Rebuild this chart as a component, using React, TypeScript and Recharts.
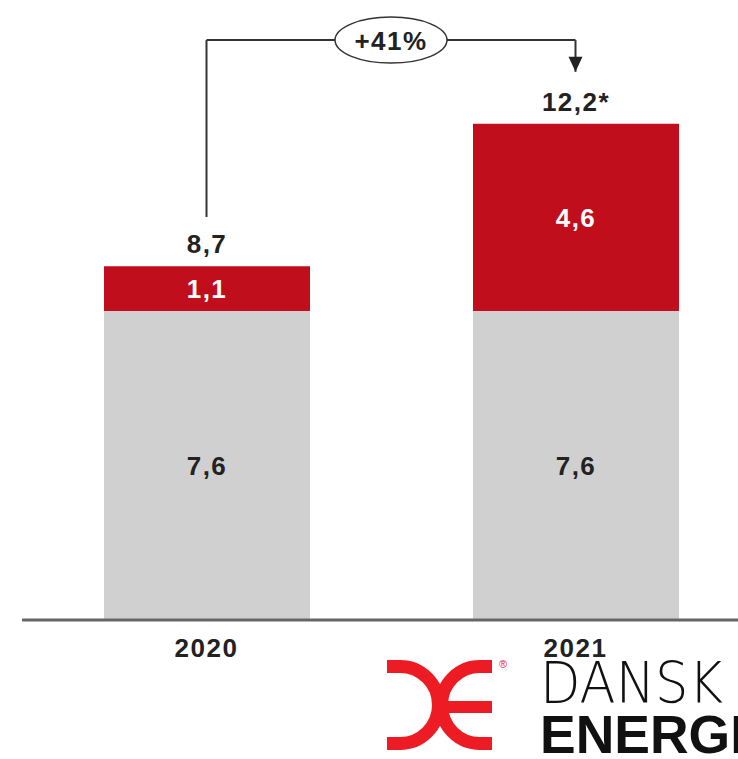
import { Bar, BarChart, LabelList, ReferenceLine, XAxis, YAxis } from 'recharts';

// Kategorier og værdier
const categories = ['2020', '2021'];
const baseValues = [7.6, 7.6];
const addedValues = [1.1, 4.6];
const totalLabels = ['8,7', '12,2*'];
const growthLabel = '+41%';

// Pilens forløb i dataenheder (y-aksen 0–15)
const BRACKET_TOP = 14.26;
const BRACKET_LEFT_BOTTOM = 9.91;
const ARROW_TIP = 13.48;

const GRAY = '#d0d0d0';
const RED = '#c10e1c';
const INK = '#222222';
const FONT = '"Liberation Sans", Arial, sans-serif';

const data = categories.map((c, i) => ({
  year: c,
  base: baseValues[i],
  added: addedValues[i],
  total: totalLabels[i],
}));

const fmt = (v: number) => v.toFixed(1).replace('.', ',');

const labelStyle = { fontFamily: FONT, fontWeight: 700, fontSize: 26, letterSpacing: 1.5 };

function CategoryTick({ x, y, payload }: any) {
  return (
    <text x={x} y={y + 37} textAnchor="middle" fill={INK} style={labelStyle}>
      {payload.value}
    </text>
  );
}

function GrowthBubble({ viewBox }: any) {
  const cx = viewBox.x + viewBox.width / 2;
  const cy = viewBox.y;
  return (
    <g>
      <ellipse cx={cx} cy={cy} rx={56} ry={23} fill="#fff" stroke="#333" strokeWidth={1.5} />
      <text x={cx} y={cy + 10} textAnchor="middle" fill={INK} style={labelStyle}>
        {growthLabel}
      </text>
    </g>
  );
}

function ArrowHead({ viewBox }: any) {
  const x = viewBox.x;
  const tip = viewBox.y + viewBox.height;
  return <polygon points={`${x - 7},${tip - 15} ${x + 7},${tip - 15} ${x},${tip}`} fill={INK} />;
}

function Logo() {
  return (
    <svg width={738} height={759} style={{ position: 'absolute', left: 0, top: 0, pointerEvents: 'none' }}>
      <g fill="none" stroke="#ed1c24" strokeWidth={13}>
        <path d="M387 666.5 L400 666.5 A38.5 38.5 0 0 1 400 743.5 L387 743.5" />
        <path d="M492 666.5 L480 666.5 A38.5 38.5 0 0 0 480 743.5 L492 743.5" />
      </g>
      <rect x={443} y={701} width={49} height={12} fill="#ed1c24" />
      <text x={503} y={668} textAnchor="middle" fill="#ed1c24" style={{ fontFamily: FONT, fontSize: 11 }}>
        ®
      </text>
      <text x={540} y={703} textLength={183} lengthAdjust="spacingAndGlyphs" fill="#111"
        style={{ fontFamily: '"DejaVu Sans", sans-serif', fontWeight: 200, fontSize: 57 }}>
        DANSK
      </text>
      <text x={540} y={753} textLength={205} lengthAdjust="spacingAndGlyphs" fill="#111"
        style={{ fontFamily: FONT, fontWeight: 700, fontSize: 54 }}>
        ENERGI
      </text>
    </svg>
  );
}

export default function App() {
  return (
    <div style={{ position: 'absolute', left: 0, top: 0, width: 738, height: 759, overflow: 'hidden', background: '#fff' }}>
      <BarChart width={760} height={759} data={data} margin={{ top: 10, right: 0, bottom: 99, left: 22 }}>
        <XAxis
          dataKey="year"
          axisLine={{ stroke: '#666', strokeWidth: 3 }}
          tickLine={false}
          tickSize={0}
          tickMargin={0}
          height={40}
          tick={<CategoryTick />}
        />
        <YAxis hide domain={[0, 15]} />
        <Bar dataKey="base" stackId="a" fill={GRAY} barSize={206} isAnimationActive={false}>
          <LabelList dataKey="base" position="center" formatter={fmt} fill={INK} style={labelStyle} />
        </Bar>
        <Bar dataKey="added" stackId="a" fill={RED} barSize={206} isAnimationActive={false}>
          <LabelList dataKey="added" position="center" formatter={fmt} fill="#fff" style={labelStyle} />
          <LabelList dataKey="total" position="top" offset={13} fill={INK} style={labelStyle} />
        </Bar>
        <ReferenceLine
          segment={[{ x: '2020', y: BRACKET_LEFT_BOTTOM }, { x: '2020', y: BRACKET_TOP }]}
          stroke="#333"
          strokeWidth={2}
        />
        <ReferenceLine
          segment={[{ x: '2021', y: BRACKET_TOP }, { x: '2021', y: ARROW_TIP }]}
          stroke="#333"
          strokeWidth={2}
          label={<ArrowHead />}
        />
        <ReferenceLine
          segment={[{ x: '2020', y: BRACKET_TOP }, { x: '2021', y: BRACKET_TOP }]}
          stroke="#333"
          strokeWidth={2}
          label={<GrowthBubble />}
        />
      </BarChart>
      <Logo />
    </div>
  );
}
